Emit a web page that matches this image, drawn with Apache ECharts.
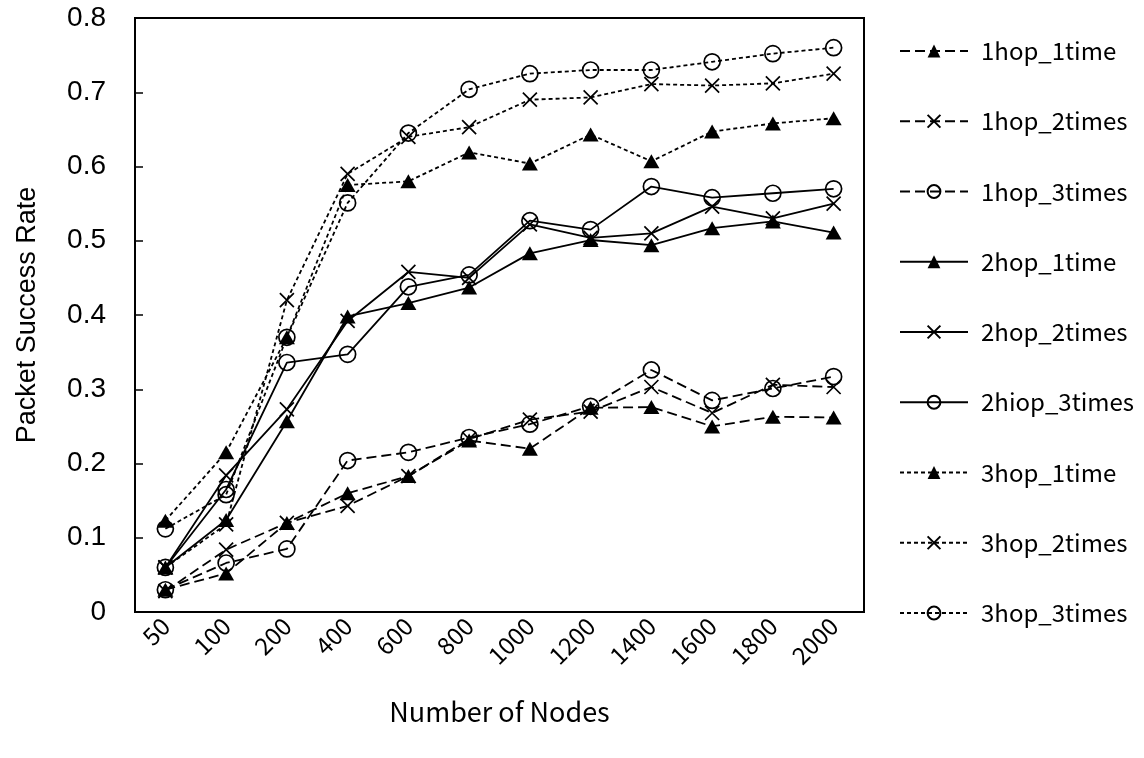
<!DOCTYPE html>
<html>
<head>
<meta charset="utf-8">
<script src="https://cdn.jsdelivr.net/npm/echarts@6/dist/echarts.min.js"></script>
<style>
  html, body { margin: 0; padding: 0; background: #fff; }
  #chart { width: 1144px; height: 758px; }
</style>
</head>
<body>
<div id="chart"></div>
<script>
// Node counts on the x axis
const nodeCounts = ['50', '100', '200', '400', '600', '800', '1000', '1200', '1400', '1600', '1800', '2000'];

// Packet success rate per configuration
const hop1Time1  = [0.030, 0.052, 0.120, 0.160, 0.183, 0.231, 0.220, 0.275, 0.276, 0.250, 0.263, 0.262];
const hop1Times2 = [0.028, 0.084, 0.120, 0.143, 0.183, 0.233, 0.259, 0.270, 0.303, 0.268, 0.306, 0.303];
const hop1Times3 = [0.030, 0.066, 0.085, 0.204, 0.215, 0.235, 0.253, 0.277, 0.326, 0.285, 0.301, 0.317];
const hop2Time1  = [0.060, 0.124, 0.257, 0.398, 0.416, 0.437, 0.483, 0.501, 0.494, 0.517, 0.526, 0.511];
const hop2Times2 = [0.060, 0.184, 0.273, 0.392, 0.458, 0.450, 0.522, 0.504, 0.510, 0.546, 0.530, 0.550];
const hop2Times3 = [0.060, 0.165, 0.336, 0.347, 0.438, 0.454, 0.527, 0.515, 0.573, 0.558, 0.564, 0.570];
const hop3Time1  = [0.123, 0.215, 0.370, 0.575, 0.580, 0.619, 0.604, 0.643, 0.607, 0.647, 0.658, 0.665];
const hop3Times2 = [0.060, 0.118, 0.420, 0.590, 0.640, 0.653, 0.690, 0.693, 0.711, 0.709, 0.712, 0.725];
const hop3Times3 = [0.112, 0.158, 0.370, 0.551, 0.645, 0.704, 0.725, 0.730, 0.730, 0.741, 0.752, 0.760];

const seriesNames = ['1hop_1time', '1hop_2times', '1hop_3times', '2hop_1time', '2hop_2times',
                     '2hiop_3times', '3hop_1time', '3hop_2times', '3hop_3times'];
const seriesData = [hop1Time1, hop1Times2, hop1Times3, hop2Time1, hop2Times2,
                    hop2Times3, hop3Time1, hop3Times2, hop3Times3];

// Y axis ticks
const yMin = 0, yMax = 0.8, yStep = 0.1;

// Line dash per hop count: long dash, solid, short dash
const dashes = [[10, 5], 'solid', [4, 3]];

const crossPath = 'path://M0,0L10,10M10,0L0,10';

function markerFor(i) {
  const kind = i % 3;
  if (kind === 0) {
    return { symbol: 'triangle', symbolSize: [16, 14],
             itemStyle: { color: '#000', borderColor: '#000', borderWidth: 0 } };
  }
  if (kind === 1) {
    return { symbol: crossPath, symbolSize: 14,
             itemStyle: { color: 'none', borderColor: '#000', borderWidth: 1.7 } };
  }
  return { symbol: 'circle', symbolSize: 16,
           itemStyle: { color: 'none', borderColor: '#000', borderWidth: 1.7 } };
}

const series = seriesNames.map((name, i) => {
  const m = markerFor(i);
  return {
    name: name,
    type: 'line',
    data: seriesData[i],
    symbol: m.symbol,
    symbolSize: m.symbolSize,
    showAllSymbol: true,
    itemStyle: m.itemStyle,
    lineStyle: { color: '#000', width: 1.8, type: dashes[Math.floor(i / 3)] },
    emphasis: { disabled: true },
    animation: false
  };
});

const chart = echarts.init(document.getElementById('chart'), null, { renderer: 'canvas' });
chart.setOption({
  backgroundColor: '#fff',
  animation: false,
  grid: {
    left: 135, top: 18, right: 280, bottom: 146,
    show: true, borderColor: '#000', borderWidth: 2, backgroundColor: 'transparent'
  },
  legend: {
    orient: 'vertical',
    left: 894,
    top: 33,
    itemWidth: 68,
    itemHeight: 16,
    itemGap: 44.25,
    textStyle: { fontFamily: 'Noto Sans CJK JP', fontSize: 24, color: '#000', lineHeight: 26,
                 padding: [0, 0, 0, 8] },
    data: seriesNames
  },
  xAxis: {
    type: 'category',
    data: nodeCounts,
    boundaryGap: true,
    name: 'Number of Nodes',
    nameLocation: 'middle',
    nameGap: 86,
    nameTextStyle: { fontFamily: 'Noto Sans CJK JP', fontSize: 27, color: '#000' },
    axisLine: { lineStyle: { color: '#000', width: 2 } },
    axisTick: { inside: true, length: 9, lineStyle: { color: '#000', width: 1.5 } },
    axisLabel: { rotate: 45, fontFamily: 'Noto Sans CJK JP', fontSize: 24, color: '#000', margin: 10 },
    splitLine: { show: false }
  },
  yAxis: {
    type: 'value',
    min: yMin, max: yMax, interval: yStep,
    name: 'Packet Success Rate',
    nameLocation: 'middle',
    nameGap: 94,
    nameTextStyle: { fontFamily: 'Liberation Sans', fontSize: 27, color: '#000' },
    axisLine: { show: true, lineStyle: { color: '#000', width: 2 } },
    axisTick: { show: true, inside: true, length: 8, lineStyle: { color: '#000', width: 1.5 } },
    axisLabel: { fontFamily: 'Liberation Sans', fontSize: 28, color: '#000', margin: 29 },
    splitLine: { show: false }
  },
  series: series
});
</script>
</body>
</html>
